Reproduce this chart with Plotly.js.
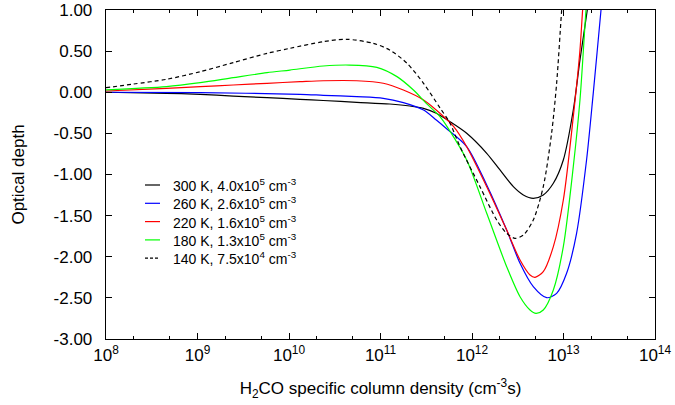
<!DOCTYPE html>
<html>
<head>
<meta charset="utf-8">
<script src="https://cdn.plot.ly/plotly-3.0.1.min.js"></script>
<style>html,body{margin:0;padding:0;background:#fff;}#chart{width:675px;height:405px;}</style>
</head>
<body>
<div id="chart"></div>
<script>
// log10 of specific column density (cm^-3 s) and optical depth
const logN300 = [8, 8.66, 9.03, 9.39, 9.76, 10.12, 10.375, 10.74, 11.10, 11.32, 11.47, 11.61, 11.76, 11.942, 12.161, 12.306, 12.452, 12.561, 12.670, 12.779, 12.889, 12.998, 13.107, 13.180, 13.260, 13.32];
const tau300  = [0.0, -0.013, -0.025, -0.046, -0.066, -0.086, -0.10, -0.122, -0.143, -0.167, -0.196, -0.256, -0.358, -0.499, -0.742, -0.945, -1.148, -1.249, -1.290, -1.249, -1.107, -0.824, -0.216, 0.392, 1.0, 1.5];

const logN260 = [8, 9.03, 10.12, 10.375, 10.74, 11.03, 11.25, 11.47, 11.61, 11.72, 11.942, 12.161, 12.379, 12.525, 12.670, 12.816, 12.925, 13.034, 13.143, 13.252, 13.325, 13.410, 13.46];
const tau260  = [0.0, -0.005, -0.025, -0.037, -0.054, -0.074, -0.127, -0.216, -0.337, -0.44, -0.66, -1.128, -1.675, -2.080, -2.364, -2.498, -2.445, -2.201, -1.715, -0.824, -0.013, 1.0, 1.6];

const logN220 = [8, 8.66, 9.03, 9.39, 9.76, 10.12, 10.375, 10.74, 11.03, 11.25, 11.47, 11.65, 11.80, 11.942, 12.161, 12.379, 12.525, 12.634, 12.689, 12.779, 12.889, 12.998, 13.107, 13.180, 13.209, 13.25];
const tau220  = [0.015, 0.048, 0.068, 0.088, 0.109, 0.128, 0.14, 0.14, 0.109, 0.027, -0.094, -0.256, -0.419, -0.662, -1.148, -1.675, -2.040, -2.222, -2.250, -2.181, -1.877, -1.310, -0.297, 0.514, 1.0, 1.6];

const logN180 = [8, 8.66, 9.03, 9.39, 9.76, 10.01, 10.375, 10.66, 10.96, 11.18, 11.36, 11.50, 11.65, 11.74, 11.942, 12.161, 12.379, 12.525, 12.634, 12.699, 12.779, 12.889, 12.998, 13.107, 13.180, 13.246, 13.29];
const tau180  = [0.03, 0.068, 0.116, 0.177, 0.238, 0.27, 0.319, 0.331, 0.303, 0.19, 0.027, -0.135, -0.297, -0.44, -0.824, -1.472, -2.121, -2.486, -2.647, -2.688, -2.647, -2.404, -1.877, -0.905, -0.094, 1.0, 1.6];

const logN140 = [8, 8.3, 8.66, 9.03, 9.39, 9.76, 10.01, 10.375, 10.63, 10.92, 11.10, 11.29, 11.47, 11.65, 11.76, 11.869, 12.087, 12.270, 12.379, 12.470, 12.561, 12.670, 12.779, 12.870, 12.925, 12.980, 13.02];
const tau140  = [0.055, 0.10, 0.157, 0.25, 0.36, 0.473, 0.534, 0.615, 0.644, 0.595, 0.514, 0.352, 0.109, -0.19, -0.378, -0.662, -1.148, -1.553, -1.715, -1.776, -1.736, -1.553, -1.148, -0.499, 0.109, 1.0, 1.6];

const seriesNames = [
  "300 K, 4.0x10<sup>5</sup> cm<sup>-3</sup>",
  "260 K, 2.6x10<sup>5</sup> cm<sup>-3</sup>",
  "220 K, 1.6x10<sup>5</sup> cm<sup>-3</sup>",
  "180 K, 1.3x10<sup>5</sup> cm<sup>-3</sup>",
  "140 K, 7.5x10<sup>4</sup> cm<sup>-3</sup>"
];
const seriesColors = ['#000000', '#0000ff', '#ff0000', '#00ff00', '#000000'];
const seriesDash = ['solid', 'solid', 'solid', 'solid', '4px,3px'];
const yTicks = [1, 0.5, 0, -0.5, -1, -1.5, -2, -2.5, -3];
const xTickExp = [8, 9, 10, 11, 12, 13, 14];

const toN = a => a.map(v => Math.pow(10, v));
const xs = [logN300, logN260, logN220, logN180, logN140];
const ys = [tau300, tau260, tau220, tau180, tau140];
const data = xs.map((lx, i) => ({
  type: 'scatter', mode: 'lines', hoverinfo: 'skip', showlegend: false,
  x: toN(lx), y: ys[i], name: seriesNames[i],
  line: {color: seriesColors[i], width: 1.2, dash: seriesDash[i], shape: 'spline', smoothing: 0.8}
}));

// hand-drawn legend (gnuplot style: short sample line, tight rows)
const fam = 'Liberation Sans, Arial, sans-serif';
const font = {family: fam, size: 17, color: '#000'};
const plotL = 106, plotW = 549, plotB = 339, plotH = 329;
const legTop = 185, legStep = 18.3, legX0 = 145, legX1 = 160, legTextX = 171;
const px2x = p => (p - plotL) / plotW;
const px2y = p => (plotB - p) / plotH;
const shapes = [], annotations = [];
seriesNames.forEach((nm, i) => {
  const yy = px2y(legTop + i * legStep);
  shapes.push({type: 'line', xref: 'paper', yref: 'paper', x0: px2x(legX0), x1: px2x(legX1), y0: yy, y1: yy,
               line: {color: seriesColors[i], width: 1.2, dash: i === 4 ? '3px,2px' : 'solid'}});
  annotations.push({xref: 'paper', yref: 'paper', x: px2x(legTextX), y: yy, xanchor: 'left', yanchor: 'middle',
                    showarrow: false, text: nm, font: {family: fam, size: 14, color: '#000'}});
});

const layout = {
  width: 675, height: 405,
  margin: {l: 106, r: 20, t: 10, b: 66},
  paper_bgcolor: '#fff', plot_bgcolor: '#fff',
  font: font,
  showlegend: false,
  shapes: shapes,
  annotations: annotations,
  xaxis: {
    type: 'log', range: [8, 14],
    tickvals: xTickExp.map(e => Math.pow(10, e)),
    ticktext: xTickExp.map(e => '10<sup>' + e + '</sup>'),
    tickfont: font,
    ticks: 'inside', ticklen: 6, tickwidth: 1, tickcolor: '#000',
    minor: {ticks: 'inside', ticklen: 3, tickcolor: '#000', showgrid: false},
    showline: true, linecolor: '#000', linewidth: 1.3, mirror: 'ticks',
    showgrid: false, zeroline: false,
    title: {text: 'H<sub>2</sub>CO specific column density (cm<sup>-3</sup>s)', font: font, standoff: 18}
  },
  yaxis: {
    range: [-3, 1],
    tickvals: yTicks, ticktext: yTicks.map(v => v.toFixed(2)),
    tickfont: font,
    ticks: 'inside', ticklen: 6, tickwidth: 1, tickcolor: '#000',
    ticklabelstandoff: 9,
    showline: true, linecolor: '#000', linewidth: 1.3, mirror: 'ticks',
    showgrid: false, zeroline: false,
    title: {text: 'Optical depth', font: font, standoff: 24}
  }
};
Plotly.newPlot('chart', data, layout, {staticPlot: true, displayModeBar: false});
</script>
</body>
</html>
